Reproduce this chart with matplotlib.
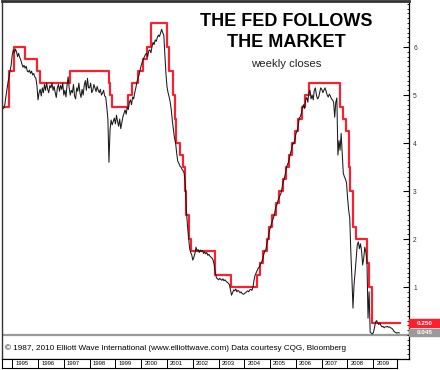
import numpy as np
import pandas as pd
import matplotlib.pyplot as plt
from matplotlib.ticker import MultipleLocator
from matplotlib.patches import Rectangle

plt.rcParams['font.family'] = ['Liberation Sans', 'DejaVu Sans']

# 3-month T-bill yield, two readings per month off the chart (from Sep 1994)
bill_1994 = [4.72, 4.78, 4.95, 5.10, 5.25, 5.38, 5.50, 5.62]
bill_1995 = [5.83, 5.94, 5.88, 5.96, 5.90, 5.80, 5.87, 5.78, 5.73, 5.65, 5.58, 5.62,
             5.56, 5.60, 5.50, 5.48, 5.52, 5.45, 5.50, 5.42, 5.45, 5.38, 5.35, 5.20]
bill_1996 = [4.90, 5.05, 5.12, 4.98, 5.15, 5.05, 5.22, 5.10, 5.25, 5.12, 5.05, 5.20,
             5.15, 5.25, 5.10, 5.18, 5.05, 4.95, 5.15, 5.22, 5.08, 5.20, 5.12, 5.25]
bill_1997 = [5.00, 5.10, 4.96, 5.20, 5.38, 5.15, 5.00, 5.10, 5.05, 5.22, 4.98, 4.92,
             5.15, 5.08, 5.25, 5.05, 4.95, 5.12, 5.00, 5.20, 5.30, 5.10, 5.35, 5.15]
bill_1998 = [5.15, 5.25, 5.05, 5.10, 5.22, 5.15, 5.07, 5.18, 5.10, 5.05, 5.12, 5.00,
             5.04, 5.10, 4.98, 4.96, 4.75, 4.50, 3.60, 4.27, 4.48, 4.38, 4.45, 4.52]
bill_1999 = [4.40, 4.58, 4.45, 4.35, 4.50, 4.30, 4.42, 4.55, 4.62, 4.69, 4.60, 4.75,
             4.70, 4.85, 4.90, 4.80, 4.96, 4.92, 5.05, 5.15, 5.27, 5.35, 5.42, 5.52]
bill_2000 = [5.62, 5.69, 5.75, 5.80, 5.85, 5.87, 5.80, 5.92, 5.94, 5.88, 6.00, 6.10,
             6.05, 6.15, 6.12, 6.20, 6.25, 6.22, 6.29, 6.37, 6.30, 6.25, 5.85, 5.45]
bill_2001 = [5.17, 5.05, 4.96, 4.85, 4.69, 4.45, 4.27, 4.10, 4.00, 3.79, 3.62, 3.58,
             3.52, 3.50, 3.45, 3.42, 3.37, 3.15, 2.60, 2.29, 2.05, 1.81, 1.72, 1.67]
bill_2002 = [1.56, 1.62, 1.70, 1.83, 1.75, 1.78, 1.72, 1.77, 1.74, 1.76, 1.70, 1.73,
             1.69, 1.72, 1.66, 1.68, 1.64, 1.62, 1.60, 1.55, 1.45, 1.30, 1.19, 1.17]
bill_2003 = [1.15, 1.18, 1.16, 1.14, 1.17, 1.13, 1.15, 1.12, 1.10, 1.08, 1.05, 0.95,
             0.83, 0.88, 0.94, 0.92, 0.96, 0.90, 0.93, 0.91, 0.88, 0.90, 0.86, 0.85]
bill_2004 = [0.86, 0.88, 0.90, 0.92, 0.90, 0.94, 0.95, 0.93, 1.00, 1.15, 1.25, 1.30,
             1.35, 1.40, 1.42, 1.48, 1.52, 1.58, 1.68, 1.75, 1.78, 1.92, 2.00, 2.15]
bill_2005 = [2.23, 2.30, 2.38, 2.44, 2.52, 2.65, 2.70, 2.78, 2.85, 2.90, 2.95, 3.06,
             3.19, 3.25, 3.35, 3.48, 3.55, 3.60, 3.71, 3.80, 3.88, 4.00, 3.98, 4.08]
bill_2006 = [4.20, 4.25, 4.35, 4.52, 4.55, 4.62, 4.75, 4.80, 4.72, 4.90, 4.95, 4.85,
             5.05, 5.10, 4.92, 5.00, 4.90, 5.10, 5.15, 5.00, 4.92, 4.95, 5.05, 5.15]
bill_2007 = [5.12, 5.05, 5.10, 5.15, 5.08, 5.00, 4.96, 5.02, 4.98, 4.92, 4.90, 4.85,
             4.54, 4.85, 4.94, 3.75, 4.05, 3.85, 4.20, 3.80, 3.37, 3.30, 3.25, 3.17]
bill_2008 = [2.85, 2.60, 2.44, 1.73, 1.19, 0.56, 1.05, 1.31, 1.60, 1.88, 1.94, 1.80,
             1.90, 1.75, 1.46, 1.60, 1.83, 1.73, 1.55, 0.35, 0.90, 0.06, 0.04, 0.02]
bill_2009 = [0.05, 0.15, 0.27, 0.30, 0.25, 0.22, 0.25, 0.20, 0.17, 0.18, 0.15, 0.17,
             0.17, 0.18, 0.16, 0.17, 0.15, 0.14, 0.12, 0.08, 0.06, 0.05, 0.04, 0.05]
bill_2010 = [0.045]

bill = (bill_1994 + bill_1995 + bill_1996 + bill_1997 + bill_1998 + bill_1999 +
        bill_2000 + bill_2001 + bill_2002 + bill_2003 + bill_2004 + bill_2005 +
        bill_2006 + bill_2007 + bill_2008 + bill_2009 + bill_2010)
bill_t = 1994 + (16 + np.arange(len(bill))) / 24

# Fed funds target rate changes
fed_dates = ['1994-09-05', '1994-11-15', '1995-02-01', '1995-07-06', '1995-12-19',
             '1996-01-31', '1997-03-25', '1998-09-29', '1998-10-15', '1998-11-17',
             '1999-06-30', '1999-08-24', '1999-11-16', '2000-02-02', '2000-03-21',
             '2000-05-16', '2001-01-03', '2001-01-31', '2001-03-20', '2001-04-18',
             '2001-05-15', '2001-06-27', '2001-08-21', '2001-09-17', '2001-10-02',
             '2001-11-06', '2001-12-11', '2002-11-06', '2003-06-25', '2004-06-30',
             '2004-08-10', '2004-09-21', '2004-11-10', '2004-12-14', '2005-02-02',
             '2005-03-22', '2005-05-03', '2005-06-30', '2005-08-09', '2005-09-20',
             '2005-11-01', '2005-12-13', '2006-01-31', '2006-03-28', '2006-05-10',
             '2006-06-29', '2007-09-18', '2007-10-31', '2007-12-11', '2008-01-22',
             '2008-01-30', '2008-03-18', '2008-04-30', '2008-10-08', '2008-10-29',
             '2008-12-16', '2010-01-08']
fed_rate = [4.75, 5.50, 6.00, 5.75, 5.50, 5.25, 5.50, 5.25, 5.00, 4.75,
            5.00, 5.25, 5.50, 5.75, 6.00, 6.50, 6.00, 5.50, 5.00, 4.50,
            4.00, 3.75, 3.50, 3.00, 2.50, 2.00, 1.75, 1.25, 1.00, 1.25,
            1.50, 1.75, 2.00, 2.25, 2.50, 2.75, 3.00, 3.25, 3.50, 3.75,
            4.00, 4.25, 4.50, 4.75, 5.00, 5.25, 4.75, 4.50, 4.25, 3.50,
            3.00, 2.25, 2.00, 1.50, 1.00, 0.25, 0.25]

years = list(range(1995, 2010))

d = pd.to_datetime(fed_dates)
fed_t = d.year + (d.dayofyear - 1) / 365.25

fig = plt.figure(figsize=(4.4, 3.7), dpi=100)
ax = fig.add_axes([1.5 / 440, 1 - 359 / 370, 407.5 / 440, 358 / 370])
ax.set_xlim(1994.585, 2010.38)
ax.set_ylim(-0.5, 6.96)

ax.axhline(0, color='#9a9a9a', lw=1.6, zorder=1)
ax.step(fed_t, fed_rate, where='post', color='#ff1e2d', lw=1.55, zorder=2)
ax.plot(bill_t, bill, color='#1a1a1a', lw=0.75, zorder=3)

ax.set_xticks([])
ax.yaxis.tick_right()
ax.set_yticks([1, 2, 3, 4, 5, 6])
ax.yaxis.set_minor_locator(MultipleLocator(0.1))
ax.tick_params(axis='y', which='major', direction='in', length=4, width=0.8,
               labelsize=4.8, pad=3, labelcolor='#333333')
ax.tick_params(axis='y', which='minor', direction='in', length=1.5, width=0.6)
for side in ['top', 'left']:
    ax.spines[side].set_color('#333333')
ax.spines['top'].set_linewidth(2)
ax.spines['left'].set_linewidth(1)
ax.spines['right'].set_linewidth(0.9)
ax.spines['bottom'].set_linewidth(0.9)

# last-value tags on the right
trans = ax.get_yaxis_transform()
for val, txt, col in [(fed_rate[-1], '0.250', '#ff1e2d'), (bill[-1], '0.045', '#9a9a9a')]:
    ax.add_patch(Rectangle((1.0, val - 0.075), 0.08, 0.15, transform=trans,
                           color=col, clip_on=False, zorder=5))
    ax.text(1.02, val, txt, transform=trans, color='white', fontsize=4.6,
            fontweight='bold', va='center', ha='left', zorder=6)

fig.text(286 / 440, 1 - 22 / 370, 'THE FED FOLLOWS', ha='center', va='center',
         fontsize=13, fontweight='bold')
fig.text(286 / 440, 1 - 42.5 / 370, 'THE MARKET', ha='center', va='center',
         fontsize=13, fontweight='bold')
fig.text(286 / 440, 1 - 64 / 370, 'weekly closes', ha='center', va='center',
         fontsize=8.2, color='#222222')
fig.text(5 / 440, 1 - 348 / 370,
         '\u00a9 1987, 2010 Elliott Wave International (www.elliottwave.com) '
         'Data courtesy CQG, Bloomberg', ha='left', va='center', fontsize=5.85)

# year strip under the chart
band = fig.add_axes([1.5 / 440, 1 - 368 / 370, 395.5 / 440, 9 / 370])
band.set_xlim(1994.585, 2009.92)
band.set_ylim(0, 1)
band.set_xticks([])
band.set_yticks([])
for s in band.spines.values():
    s.set_linewidth(0.8)
for y in years:
    band.axvline(y, color='black', lw=0.7)
    band.text(y + 0.12, 0.5, str(y), fontsize=4.2, va='center', ha='left')

fig.savefig('out.png', dpi=100)
